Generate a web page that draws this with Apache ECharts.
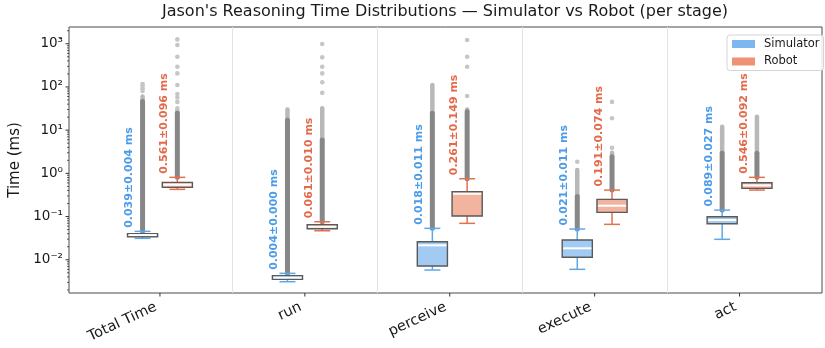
<!DOCTYPE html>
<html>
<head>
<meta charset="utf-8">
<title>Jason's Reasoning Time Distributions</title>
<script src="https://cdn.jsdelivr.net/npm/echarts@6/dist/echarts.min.js"></script>
<style>
  html, body { margin: 0; padding: 0; background: #fff; }
  #chart { width: 825px; height: 348px; }
</style>
</head>
<body>
<div id="chart"></div>
<script>
const categories = ['Total Time', 'run', 'perceive', 'execute', 'act'];

// box stats: [lower whisker, Q1, median, Q3, upper whisker] (ms)
const simBox = [
  [0.0313, 0.0341, 0.0373, 0.0400, 0.0454],
  [0.0031, 0.00352, 0.00387, 0.00426, 0.00484],
  [0.00578, 0.00714, 0.0216, 0.0261, 0.0533],
  [0.0060, 0.0114, 0.0184, 0.0286, 0.0514],
  [0.0297, 0.068, 0.083, 0.099, 0.141]
];
const robotBox = [
  [0.426, 0.474, 0.544, 0.619, 0.808],
  [0.0469, 0.0522, 0.0581, 0.0646, 0.0758],
  [0.0696, 0.103, 0.337, 0.375, 0.75],
  [0.066, 0.125, 0.178, 0.25, 0.41],
  [0.41, 0.45, 0.527, 0.605, 0.808]
];

// outliers: top of the solid run of overlapping points, top of the fainter tail, lone points
const simDenseTop = [46, 17, 24.5, 0.29, 2.9];
const simTailTop = [60, 30, 111, 1.19, 12];
const simSparse = [[81, 93, 107, 117], [], [], [1.86], []];
const robotDenseTop = [24.5, 5.9, 26.7, 2.42, 2.9];
const robotTailTop = [28, 32, 30, 3.0, 20.4];
const robotSparse = [
  [32, 45, 57, 68.5, 111, 206, 294, 500, 933, 1260],
  [73, 128, 206, 294, 484, 984],
  [61.5, 294, 500, 1218],
  [3.9, 18.8, 45],
  []
];

const simMean = [0.039, 0.004, 0.018, 0.021, 0.089];
const simStd = [0.004, 0.000, 0.011, 0.011, 0.027];
const robotMean = [0.561, 0.061, 0.261, 0.191, 0.546];
const robotStd = [0.096, 0.010, 0.149, 0.074, 0.092];

const yMin = 0.0017, yMax = 2440;
const yMajor = [0.01, 0.1, 1, 10, 100, 1000];

const FONT = '"DejaVu Sans", sans-serif';
const SIM = { patch: '#7eb6ee', fill: '#a2caf2', line: '#5ea8ea', text: '#4b9be8' };
const ROB = { patch: '#ef9175', fill: '#f2b39f', line: '#e5704f', text: '#e3694a' };

const supers = { '-': '\u207b', '0': '\u2070', '1': '\u00b9', '2': '\u00b2', '3': '\u00b3' };

// y ticks (major + log minor) drawn on the frame grid
const tickData = [];
yMajor.forEach(v => tickData.push([0, v, 1]));
[0.001, 0.01, 0.1, 1, 10, 100, 1000].forEach(d => {
  for (let k = 2; k <= 9; k++) {
    const v = d * k;
    if (v > yMin && v < yMax) tickData.push([0, v, 0]);
  }
});

function fliersItem(side, denseTop, tailTop, box) {
  return function (params, api) {
    const i = api.value(0);
    const band = api.size([1, 1])[0];
    const cx = api.coord([i, 1])[0] + side * band * 0.12;
    const yHigh = api.coord([i, box[i][4]])[1];
    const yDense = api.coord([i, denseTop[i]])[1];
    const yTail = api.coord([i, tailTop[i]])[1];
    return {
      type: 'group',
      children: [
        { type: 'line', shape: { x1: cx, y1: yDense, x2: cx, y2: yTail },
          style: { stroke: '#b8b8b8', lineWidth: 4.5, lineCap: 'round' } },
        { type: 'line', shape: { x1: cx, y1: yHigh, x2: cx, y2: yDense },
          style: { stroke: '#878787', lineWidth: 5, lineCap: 'round' } }
      ]
    };
  };
}

function sparseItem(side) {
  return function (params, api) {
    const band = api.size([1, 1])[0];
    const p = api.coord([api.value(0), api.value(1)]);
    return { type: 'circle', shape: { cx: p[0] + side * band * 0.12, cy: p[1], r: 2.3 },
      style: { fill: '#c6c6c6' } };
  };
}

function boxItem(side, c, mean, std) {
  return function (params, api) {
    const i = api.value(0);
    const band = api.size([1, 1])[0];
    const cx = api.coord([i, 1])[0] + side * band * 0.12;
    const half = band * 0.104;
    const cap = band * 0.055;
    const y = k => api.coord([i, api.value(k)])[1];
    const yLow = y(1), yQ1 = y(2), yMed = y(3), yQ3 = y(4), yHigh = y(5);
    const wl = { stroke: c.line, lineWidth: 1.5 };
    return {
      type: 'group',
      children: [
        { type: 'line', shape: { x1: cx, y1: yQ1, x2: cx, y2: yLow }, style: wl },
        { type: 'line', shape: { x1: cx, y1: yQ3, x2: cx, y2: yHigh }, style: wl },
        { type: 'line', shape: { x1: cx - cap, y1: yLow, x2: cx + cap, y2: yLow }, style: wl },
        { type: 'line', shape: { x1: cx - cap, y1: yHigh, x2: cx + cap, y2: yHigh }, style: wl },
        { type: 'rect', shape: { x: cx - half, y: yQ3, width: 2 * half, height: yQ1 - yQ3 },
          style: { fill: c.fill, stroke: '#5a5a5a', lineWidth: 1.4 } },
        { type: 'line', shape: { x1: cx - half + 1, y1: yMed, x2: cx + half - 1, y2: yMed },
          style: { stroke: '#ffffff', lineWidth: 2 } },
        { type: 'text', x: cx - band * 0.09, y: yHigh - 3.5, rotation: Math.PI / 2,
          style: { text: mean[i].toFixed(3) + '\u00b1' + std[i].toFixed(3) + ' ms',
            fill: c.text, font: 'bold 11px ' + FONT, align: 'left', verticalAlign: 'middle' } }
      ]
    };
  };
}

// category tick marks and rotated labels, placed like matplotlib (ha=right, rotation 25)
function xLabelItem(params, api) {
  const i = api.value(0);
  const p = api.coord([i, yMin]);
  const ang = 25 * Math.PI / 180;
  const fs = 14.5;
  return {
    type: 'group',
    children: [
      { type: 'line', shape: { x1: p[0], y1: p[1], x2: p[0], y2: p[1] + 3.5 },
        style: { stroke: '#333', lineWidth: 1 } },
      { type: 'text', x: p[0] - fs * 1.17 * Math.sin(ang), y: p[1] + 6.5, rotation: ang,
        style: { text: categories[i], fill: '#1a1a1a', font: fs + 'px ' + FONT,
          align: 'right', verticalAlign: 'top' } }
    ]
  };
}

const boxData = rows => rows.map((r, i) => [i].concat(r));
const fliersData = rows => rows.map((r, i) => [i, r[4]]);
const sparseData = lists => {
  const out = [];
  lists.forEach((l, i) => l.forEach(v => out.push([i, v])));
  return out;
};

const chart = echarts.init(document.getElementById('chart'));
chart.setOption({
  animation: false,
  textStyle: { fontFamily: FONT },
  title: {
    text: "Jason's Reasoning Time Distributions \u2014 Simulator vs Robot (per stage)",
    left: 162, top: 4, padding: 0,
    textStyle: { fontSize: 16, fontWeight: 'normal', color: '#1a1a1a', fontFamily: FONT }
  },
  legend: {
    data: ['Simulator', 'Robot'],
    orient: 'vertical',
    left: 727, top: 35,
    icon: 'rect', itemWidth: 23, itemHeight: 8, itemGap: 3.5,
    padding: [2, 4, 2, 5],
    borderColor: '#d4d4d4', borderWidth: 1, borderRadius: 3,
    backgroundColor: 'rgba(255,255,255,0.85)',
    textStyle: { fontSize: 11.5, color: '#1a1a1a', lineHeight: 14, padding: [0, 0, 0, 4] }
  },
  grid: [
    { left: 87.5, right: 13, top: 27, bottom: 55, outerBoundsMode: 'none' },
    { left: 69, right: 3, top: 27, bottom: 55, show: true, borderColor: '#4a4a4a', borderWidth: 1, outerBoundsMode: 'none' }
  ],
  xAxis: [
    {
      type: 'category', gridIndex: 0, data: categories, boundaryGap: true,
      axisLine: { show: false, onZero: false },
      axisTick: { show: false },
      axisLabel: { show: false },
      splitLine: { show: true, showMinLine: false, showMaxLine: false, lineStyle: { color: '#e3e3e3', width: 1 } }
    },
    { type: 'value', gridIndex: 1, min: 0, max: 1, show: false }
  ],
  yAxis: [
    { type: 'log', gridIndex: 0, logBase: 10, min: yMin, max: yMax, show: false },
    {
      type: 'log', gridIndex: 1, logBase: 10, min: yMin, max: yMax,
      name: 'Time (ms)', nameLocation: 'middle', nameGap: 34,
      nameTextStyle: { fontSize: 15, color: '#1a1a1a' },
      axisLine: { show: false, onZero: false },
      axisTick: { show: false },
      splitLine: { show: false },
      axisLabel: {
        showMinLabel: false, showMaxLabel: false, margin: 6,
        fontSize: 13.5, color: '#1a1a1a',
        formatter: v => {
          const e = String(Math.round(Math.log10(v)));
          return '10' + e.split('').map(ch => supers[ch]).join('');
        }
      }
    }
  ],
  series: [
    {
      type: 'custom', xAxisIndex: 1, yAxisIndex: 1, data: tickData, silent: true,
      renderItem: (params, api) => {
        const p = api.coord([api.value(0), api.value(1)]);
        const len = api.value(2) ? 3.5 : 2;
        return { type: 'line', shape: { x1: p[0] - len, y1: p[1], x2: p[0], y2: p[1] },
          style: { stroke: '#333', lineWidth: api.value(2) ? 1 : 0.8 } };
      }
    },
    { type: 'custom', data: categories.map((c, i) => [i]), renderItem: xLabelItem, silent: true },
    { type: 'custom', data: fliersData(simBox), renderItem: fliersItem(-1, simDenseTop, simTailTop, simBox), z: 2 },
    { type: 'custom', data: fliersData(robotBox), renderItem: fliersItem(1, robotDenseTop, robotTailTop, robotBox), z: 2 },
    { type: 'custom', data: sparseData(simSparse), renderItem: sparseItem(-1), z: 2 },
    { type: 'custom', data: sparseData(robotSparse), renderItem: sparseItem(1), z: 2 },
    {
      name: 'Simulator', type: 'custom', data: boxData(simBox), z: 3,
      itemStyle: { color: SIM.patch },
      renderItem: boxItem(-1, SIM, simMean, simStd)
    },
    {
      name: 'Robot', type: 'custom', data: boxData(robotBox), z: 3,
      itemStyle: { color: ROB.patch },
      renderItem: boxItem(1, ROB, robotMean, robotStd)
    }
  ]
});
</script>
</body>
</html>
